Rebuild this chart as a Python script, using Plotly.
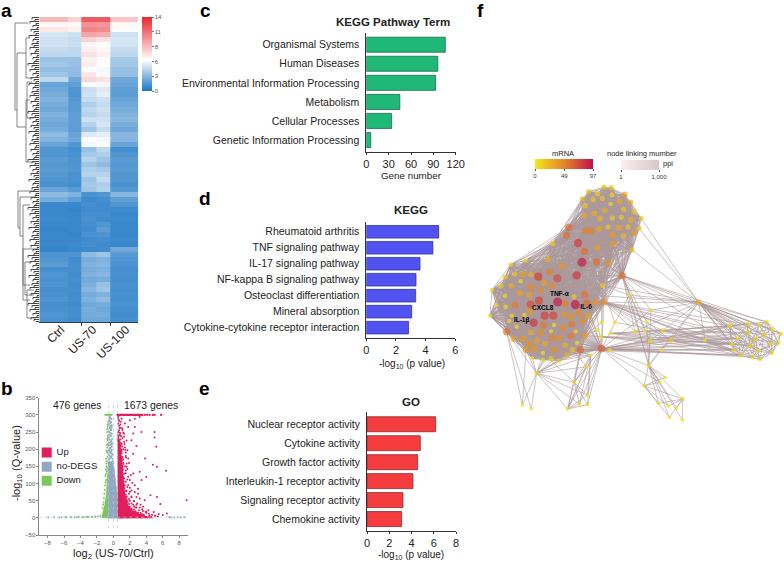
import plotly.graph_objects as go

W, H = 784, 562
FONT = "Liberation Sans"
INK = "#222222"

# ---------------- a: heatmap rows, top to bottom ----------------
ctrl_left = [8.5, 6.2, 6.8, 4.8, 4.6, 4.7, 4.4, 4.2, 3.3, 3.5, 3.1, 3.4, 4.2, 2.0, 2.2, 2.4, 2.6, 2.4, 2.2, 2.6,
             2.4, 2.2, 2.4, 3.0, 2.7, 2.0, 1.4, 1.4, 1.6, 1.5, 1.6, 1.5, 1.3, 1.2, 2.0, 3.0, 2.4, 0.8, 0.8, 0.8,
             0.9, 0.8, 0.7, 0.8, 0.8, 0.8, 0.7, 1.3, 1.4, 1.6, 1.1, 1.3, 1.2, 1.3, 1.1, 1.2, 1.3, 1.1, 1.2, 1.3, 1.2]
ctrl_right = [7.5, 6.2, 6.4, 4.6, 4.4, 4.5, 4.2, 4.2, 3.3, 3.2, 3.1, 3.0, 2.2, 1.8, 1.4, 1.3, 1.5, 1.6, 1.6, 1.8,
              1.8, 1.8, 1.7, 2.0, 2.2, 1.4, 1.1, 1.2, 1.3, 1.3, 1.4, 1.2, 1.2, 1.1, 1.6, 2.6, 1.8, 0.8, 0.7, 0.8,
              0.8, 0.8, 0.8, 0.7, 0.8, 0.9, 0.8, 1.3, 1.0, 1.1, 1.1, 1.0, 1.1, 1.0, 1.1, 1.0, 1.1, 1.0, 1.1, 1.1, 1.0]
us70_left = [12, 10, 10.5, 9.3, 7.5, 6.2, 6.5, 7, 6.4, 6.6, 6, 6.8, 7.4, 5.8, 4.5, 4.6, 4.4, 3.8, 4.2, 4.0,
             4.6, 4.0, 3.4, 5.0, 5.8, 5.6, 3.2, 3.6, 4.0, 3.4, 3.8, 4.0, 3.4, 3.6, 3.4, 1.2, 0.9, 1.1, 1.0, 1.1,
             1.2, 1.1, 1.0, 1.2, 1.0, 1.1, 0.9, 3.0, 2.4, 2.6, 2.4, 2.6, 2.3, 2.5, 2.8, 2.4, 2.6, 2.2, 2.4, 2.3, 2.2]
us70_right = [12, 9.8, 10.2, 9, 7, 6, 6.2, 6.5, 5.8, 6, 5.6, 5.8, 7, 5.6, 5, 5.2, 4.6, 4.4, 4.6, 4.4,
              4.6, 4.8, 4.4, 5.2, 5.6, 5.8, 4.2, 3.8, 3.4, 3.0, 3.6, 4.0, 4.4, 3.8, 3.9, 1.4, 1.1, 1.0, 1.0, 1.1,
              1.0, 1.4, 1.7, 1.3, 1.1, 1.0, 1.0, 3.4, 2.6, 2.8, 2.6, 2.8, 2.4, 3.2, 3.4, 2.6, 3.0, 2.4, 2.2, 2.4, 2.2]
us100 = [8, 6.2, 6, 4.6, 4.8, 4.7, 4.4, 4.2, 3.6, 3.5, 3.2, 3.2, 2.2, 2.0, 1.8, 1.7, 2.0, 2.2, 2.4, 2.6,
         2.8, 2.4, 2.2, 2.8, 2.8, 2.0, 1.1, 1.4, 1.6, 1.5, 1.6, 1.4, 1.4, 1.2, 1.5, 2.8, 1.8, 1.4, 0.9, 0.8,
         0.9, 0.8, 0.8, 0.8, 0.9, 0.8, 2.2, 1.6, 1.4, 1.2, 1.1, 1.2, 1.1, 1.2, 1.1, 1.2, 1.1, 1.2, 1.1, 1.0, 1.1]
heat_labels = ["Ctrl", "US-70", "US-100"]
heat_ticks = [0, 2.8, 5.6, 8.4, 11.2, 14]
heat_tick_text = ["0", "3", "6", "8", "11", "14"]
leaf_depth = [7, 4, 9, 3, 6, 2, 8, 5, 3, 10, 4, 6, 2, 7, 5, 9, 3, 4, 8, 2, 6, 3, 5, 11]

# dendrogram brackets above the leaves: stem x, first y, second y, child x for each
bracket_x = [15, 17, 26, 27, 26, 18, 20, 23, 23, 25, 27]
bracket_y1 = [23, 53, 38, 82, 100, 191, 197, 205, 249, 262, 290]
bracket_y2 = [110, 127, 78, 118, 162, 228, 236, 285, 300, 295, 318]
bracket_c1 = [28, 26, 30, 32, 30, 36, 34, 30, 36, 32, 34]
bracket_c2 = [17, 26, 33, 34, 36, 20, 23, 30, 30, 34, 36]

# ---------------- b: volcano ----------------
up_area_x = [0.5, 5.0, 4.0, 3.2, 2.4, 1.8, 1.4, 1.2, 1.0, 0.8, 0.5]
up_area_y = [-2, -1, 5, 12, 22, 36, 75, 135, 185, 225, 250]
none_area_x = [-0.65, 0.5, 0.5, 0.3, 0.1, -0.2, -0.65]
none_area_y = [-2, -2, 60, 110, 150, 165, 165]
down_area_x = [-0.65, -1.45, -1.3, -1.1, -0.9, -0.75, -0.6]
down_area_y = [-2, 0, 17, 36, 66, 135, 185]

up_x = [8.9, 6.4, 5.2, 5.0, 5.0, 3.85, 4.8, 5.3, 3.4, 2.6, 3.2, 2.6, 1.8, 2.4, 2.2, 2.8, 1.7, 2.4, 1.4, 1.0,
        2.0, 1.3, 3.2, 4.0, 3.4, 3.0, 4.5, 5.3, 5.7, 3.8, 2.8, 3.2, 2.2, 2.0, 2.4, 1.6, 1.8, 2.6, 3.6, 4.25,
        4.9, 6.0, 6.5, 5.5, 1.1, 1.3, 0.8, 0.9, 1.5, 1.2, 0.7, 1.0, 1.6, 1.4, 1.9, 1.7, 2.1, 0.9, 1.1, 1.4,
        1.8, 2.3, 2.6, 2.0, 1.5, 1.7, 2.9, 3.3, 2.5, 2.2, 1.9, 1.5, 1.3, 1.2, 1.6, 2.0, 2.7, 3.1, 3.5, 3.0,
        4.0, 3.6, 2.4, 2.8, 0.8, 0.7, 0.9, 1.1, 1.0, 0.6, 0.7, 0.8, 1.0, 1.2, 1.3, 1.5, 0.6, 0.65, 0.55, 0.75,
        0.85, 0.95, 1.05, 0.6, 0.7, 1.9, 2.2, 2.5, 1.4, 1.6, 4.4, 4.7, 5.1, 3.9, 3.3]
up_y = [51, 137, 207, 250, 234, 173, 155, 149, 250, 265, 294, 289, 265, 246, 226, 209, 197, 187, 275, 289,
        284, 236, 134, 119, 110, 85, 66, 61, 40, 51, 61, 56, 80, 110, 129, 149, 173, 95, 32, 22,
        17, 8, 13, 11, 260, 222, 245, 210, 190, 170, 268, 195, 225, 205, 160, 142, 125, 280, 255, 150,
        120, 102, 75, 88, 105, 90, 42, 38, 48, 60, 70, 130, 115, 160, 62, 50, 30, 22, 25, 70,
        14, 10, 38, 30, 240, 255, 175, 145, 120, 225, 205, 195, 215, 200, 245, 180, 275, 240, 290, 215,
        190, 165, 178, 250, 150, 55, 42, 33, 95, 78, 7, 9, 6, 18, 15]
up_edge_x = [4.3, 4.6, 3.7, 3.4, 3.0, 2.7, 2.5, 2.2, 2.0, 1.9, 1.75, 1.65, 1.6, 1.5, 1.45, 1.35, 1.3, 1.25, 1.2, 1.3,
             1.15, 1.1, 1.2, 1.05, 1.1, 1.0, 0.95, 1.05, 0.9, 0.85, 0.95, 0.8, 0.75, 0.85, 0.7, 0.6, 0.65, 0.9, 1.2, 1.1,
             1.35, 1.45, 1.55, 1.6, 1.5, 1.7, 1.8, 2.0, 2.2, 2.5, 2.8, 3.2, 3.6, 4.0, 4.3, 5.0, 5.4]
up_edge_y = [4, 3, 8, 11, 15, 19, 24, 27, 33, 40, 46, 52, 60, 68, 78, 86, 95, 105, 118, 128,
             140, 150, 157, 168, 175, 188, 198, 208, 218, 228, 238, 248, 262, 272, 282, 295, 285, 262, 248, 232,
             215, 198, 176, 158, 138, 112, 96, 76, 62, 50, 38, 30, 20, 18, 12, 6, 4]
up_top_x = [0.5, 0.6, 0.7, 0.8, 0.9, 1.0, 1.1, 1.2, 1.3, 1.4, 1.5, 1.6, 1.7, 1.8, 1.9, 2.0, 2.1, 2.2, 2.3, 2.4,
            2.5, 2.6, 2.7, 2.8, 2.9, 3.0, 3.1, 3.2, 3.3, 3.4, 3.5, 3.8, 4.1, 4.4, 4.8, 5.0, 5.8]
none_x = [-0.5, -0.3, -0.1, -0.6, -0.4, -0.2, 0.0, -0.5, -0.3, -0.1, -0.6, -0.4, -0.25, -0.55, -0.35, -0.15, -0.5, -0.3,
          -0.45, -0.2, -0.6, -0.4, -0.3, -0.5, -0.2, -0.35, -0.45, -0.3, -0.55, -0.25, -0.4, -0.35, -0.6, -0.2,
          -0.52, -0.38, -0.22, -0.12, -0.48, -0.28, -0.58, -0.42, -0.18, -0.33, -0.54, -0.24, -0.44, -0.62, -0.3, -0.16,
          -0.5, -0.36, -0.56, -0.26, -0.46, -0.2, -0.4, -0.6, -0.32, -0.5, -0.24, -0.44, 0.1, 0.2, 0.05, 0.15, -0.05, 0.3,
          7.4, 7.8, 8.2, 8.6, 6.8, 7.0, -7.9, -7.2, -6.6, -5.8, -5.2, -4.7, -4.2, -3.6, -3.1, -2.6, -2.2]
none_y = [170, 175, 165, 185, 190, 180, 160, 200, 205, 185, 215, 220, 225, 235, 240, 230, 250, 255,
          262, 245, 270, 275, 280, 285, 270, 290, 295, 265, 210, 215, 195, 155, 160, 198,
          172, 178, 193, 172, 182, 188, 196, 203, 208, 212, 218, 222, 228, 232, 238, 216,
          243, 248, 252, 258, 260, 264, 268, 272, 278, 282, 288, 292, 120, 100, 135, 112, 150, 88,
          1, 2, 1, 2, 2, 1, 1, 2, 1, 3, 2, 2, 3, 2, 3, 3, 4]
down_x = [-0.7, -0.75, -0.8, -0.65, -0.7, -0.85, -0.75, -0.7, -0.65, -0.8, -0.7, -0.75, -1.0, -1.1, -0.9, -1.2, -1.3, -1.6, -1.9,
          -2.2, -2.6, -3.0, -3.3, -3.8, -4.4, -5.1, -5.7, -6.3,
          -0.72, -0.82, -0.78, -0.68, -0.88, -0.74, -0.66, -0.84, -0.92, -0.96, -1.04, -0.98, -1.15, -1.25, -0.76, -0.7, -0.8, -0.9]
down_y = [190, 205, 165, 215, 235, 150, 250, 265, 280, 135, 120, 145, 95, 70, 110, 45, 28, 5, 4,
          3, 3, 2, 3, 2, 2, 2, 1, 2,
          178, 192, 212, 225, 172, 228, 240, 158, 128, 104, 82, 122, 58, 38, 258, 272, 196, 140]
down_top_x = [-0.8, -0.7, -0.6, -0.5, -0.4, -0.3, -0.2, -1.0, -0.9]
legend_labels = ["Up", "no-DEGS", "Down"]
legend_x = [-8.1, -8.1, -8.1]
legend_y = [190, 149, 108]
cut_x = [-0.6, 0, 0.5]

# ---------------- c, d, e: bars ----------------
kegg_terms = ["Organismal Systems", "Human Diseases", "Environmental Information Processing",
              "Metabolism", "Cellular Processes", "Genetic Information Processing"]
kegg_counts = [106, 96, 93, 45, 34, 6]
path_terms = ["Rheumatoid arthritis", "TNF signaling pathway", "IL-17 signaling pathway",
              "NF-kappa B signaling pathway", "Osteoclast differentiation", "Mineral absorption",
              "Cytokine-cytokine receptor interaction"]
path_values = [4.88, 4.49, 3.62, 3.35, 3.33, 3.06, 2.85]
go_terms = ["Nuclear receptor activity", "Cytokine activity", "Growth factor activity",
            "Interleukin-1 receptor activity", "Signaling receptor activity", "Chemokine activity"]
go_values = [6.17, 4.79, 4.55, 4.13, 3.23, 3.11]

main_x = [427, 365, 372, 456, 483, 477, 314, 372, 394, 326, 353, 396, 434, 307, 339, 367, 419, 451, 392, 316,
          431, 374, 462, 343, 314, 397, 424, 360, 453, 384, 416, 444, 266, 318, 334, 358, 259, 397, 430, 462,
          218, 294, 399, 352, 313, 204, 137, 92, 306, 350, 385, 247, 209, 290, 175, 232, 128, 153, 104, 76,
          122, 367, 193, 215, 152, 94, 63, 36, 120, 147, 181, 75, 282, 177, 152, 233, 286, 256, 345, 320,
          105, 49, 77, 150, 194, 220, 298, 325, 253, 274, 95, 133, 30, 88, 161, 190, 222, 275, 308, 248,
          110, 152, 181, 213, 287, 80, 101, 129, 170, 217, 238, 273, 314, 148, 195, 255, 291, 224, 138, 163,
          189, 277, 301, 261, 213, 236, 189, 157]
main_y = [437, 656, 517, 360, 265, 295, 494, 171, 173, 185, 191, 195, 194, 206, 209, 205, 214, 217, 222, 227,
          238, 241, 245, 250, 257, 264, 262, 266, 270, 291, 293, 291, 292, 303, 303, 297, 316, 315, 318, 310,
          341, 339, 341, 353, 364, 388, 392, 404, 397, 396, 400, 408, 426, 436, 440, 445, 433, 433, 432, 441,
          454, 466, 459, 468, 471, 467, 468, 480, 489, 495, 480, 497, 500, 512, 523, 516, 524, 521, 517, 519,
          526, 525, 531, 545, 557, 557, 548, 557, 553, 560, 557, 555, 557, 573, 578, 585, 585, 583, 573, 594,
          590, 607, 608, 604, 605, 605, 626, 626, 632, 623, 624, 617, 617, 642, 641, 645, 638, 659, 660, 657,
          669, 659, 660, 675, 686, 692, 690, 685]
main_v = [58, 64, 42, 18, 14, 16, 55, 16, 16, 18, 14, 10, 34, 18, 16, 16, 30, 30, 8, 16,
          18, 28, 16, 28, 32, 14, 14, 24, 28, 16, 32, 18, 58, 50, 50, 32, 56, 38, 20, 38,
          16, 78, 38, 36, 58, 26, 10, 10, 92, 58, 42, 40, 50, 80, 76, 72, 36, 26, 16, 14,
          8, 16, 34, 46, 44, 28, 14, 8, 34, 34, 44, 8, 14, 74, 70, 92, 94, 50, 42, 58,
          52, 8, 10, 40, 76, 74, 46, 34, 40, 42, 6, 8, 6, 6, 80, 54, 6, 52, 44, 46,
          6, 30, 44, 6, 6, 58, 36, 38, 36, 48, 44, 52, 38, 42, 30, 26, 8, 44, 40, 40,
          6, 18, 60, 26, 14, 10, 6, 4]
outer_x = [365, 352, 363, 392, 404, 390, 332, 320, 283, 322, 323, 298, 263, 170, 127, 154, 448, 513, 500, 465,
           495, 548, 573, 510, 543, 506, 492, 555, 540, 608, 535, 565, 590, 568, 607, 656, 675]
outer_y = [577, 600, 620, 610, 577, 660, 676, 710, 757, 795, 824, 822, 837, 730, 825, 836, 495, 540, 575, 604,
           603, 602, 631, 633, 660, 706, 767, 742, 757, 807, 820, 828, 834, 862, 870, 517, 631]
outer_v = [6, 8, 8, 6, 4, 4, 6, 4, 6, 4, 4, 4, 4, 10, 2, 2, 4, 2, 2, 6,
           4, 10, 14, 6, 2, 10, 4, 2, 2, 6, 4, 2, 2, 4, 2, 30, 4]
right_x = [749, 802, 838, 860, 876, 902, 803, 852, 773, 826, 755, 810, 873, 895, 762, 832, 876, 782, 817, 840]
right_y = [588, 582, 585, 576, 598, 611, 608, 615, 626, 628, 642, 647, 641, 639, 660, 663, 669, 676, 682, 689]
right_v = [10, 12, 6, 6, 8, 8, 10, 8, 6, 10, 6, 12, 6, 6, 6, 6, 6, 10, 8, 6]
gene_labels = ["TNF-α", "CXCL8", "IL-6", "IL-1β"]
gene_x = [238, 188, 318, 125]
gene_y = [493, 535, 531, 572]

# links that leave a cluster, as positions in the lists above
outer_hub_links = {
    13: [8, 12, 9, 14, 15, 6, 7, 11],
    25: [26, 27, 28, 29, 30, 31, 32, 33, 34, 17, 18, 23, 24, 16],
    35: [17, 21, 22, 36, 16, 19, 25],
    21: [19, 20, 23, 3, 4],
    22: [20, 5, 2, 24, 18],
    26: [30, 31, 33, 28, 27],
    29: [30, 31, 32, 33, 34, 26],
    8: [12, 9, 10, 11, 6, 7],
    12: [6, 7, 9, 11, 10],
    6: [9, 10, 11],
}
main_to_outer = {
    0: [16, 17, 18, 25, 35, 20, 23, 19],
    1: [5, 6, 7, 8, 9, 10, 11, 12, 25, 26, 16, 17, 23, 24, 28, 21, 22],
    2: [35, 21, 22, 36, 19, 20],
    3: [35],
    4: [35],
    5: [35],
    6: [13, 35],
    61: [35, 16, 0, 4],
    112: [13, 8, 0, 1, 2],
    120: [13, 8],
    122: [13, 6, 8, 12],
    118: [13, 14],
    105: [13, 14, 15],
    126: [13],
    127: [13],
    125: [13, 6],
    123: [13, 6],
    121: [6, 7, 5],
}
main_to_right = {0: [0, 1, 3, 10], 1: [0, 1, 2, 8, 10, 14, 17, 18], 2: [0, 1, 8, 9, 10, 14, 17], 122: [14, 17]}
outer_to_right = {
    35: list(range(20)),
    21: [0, 1, 6, 8, 10, 14],
    22: [0, 6, 8, 10, 11, 14, 17],
    36: [8, 10, 11, 14, 17],
    5: [10, 14, 17],
    3: [0, 6, 8, 10, 14],
    2: [8, 10, 14, 17],
}
NEAR_MAIN = 215
NEAR_RIGHT = 75


def px_x(left, right):
    return [left / W, right / W]


def px_y(top, bottom):
    return [1 - bottom / H, 1 - top / H]


def near_links(xs, ys, reach):
    segs_x, segs_y = [], []
    for i in range(len(xs)):
        for j in range(i + 1, len(xs)):
            if (xs[i] - xs[j]) ** 2 + (ys[i] - ys[j]) ** 2 < reach ** 2:
                segs_x += [xs[i], xs[j], None]
                segs_y += [ys[i], ys[j], None]
    return segs_x, segs_y


def join_links(links, xa, ya, xb, yb):
    segs_x, segs_y = [], []
    for a, targets in links.items():
        for b in targets:
            segs_x += [xa[a], xb[b], None]
            segs_y += [ya[a], yb[b], None]
    return segs_x, segs_y


fig = go.Figure()

# ---------------- a ----------------
heat_scale = [[0, "#1a75c3"], [0.42, "#ffffff"], [1, "#e8262c"]]
rows = list(zip(ctrl_left, ctrl_right, us70_left, us70_right, us100))
fig.add_trace(go.Heatmap(
    z=[list(r) for r in rows],
    x=[39.3, 68, 81.7, 96, 110, 138.3],
    zmin=0, zmax=14, colorscale=heat_scale, xaxis="x", yaxis="y", hoverinfo="skip",
    colorbar=dict(x=142 / W, xanchor="left", y=1 - 17 / H, yanchor="top", len=74, lenmode="pixels",
                  thickness=9.5, xpad=0, ypad=0, outlinewidth=0, ticks="outside", ticklen=2,
                  tickcolor="#777777", tickvals=heat_ticks, ticktext=heat_tick_text,
                  tickfont=dict(size=6, color="#555555", family=FONT)),
))

leaf_x, leaf_y = [], []
for k in range(153):
    y = 17.5 + k * 2
    d = 39 - leaf_depth[k % len(leaf_depth)]
    leaf_x += [39, d, d, None]
    leaf_y += [y, y, y + 2, None]
fig.add_trace(go.Scatter(x=leaf_x, y=leaf_y, mode="lines", line=dict(color="#333333", width=0.9),
                         xaxis="x2", yaxis="y2", hoverinfo="skip", showlegend=False))
tree_x, tree_y = [], []
for bx, y1, y2, c1, c2 in zip(bracket_x, bracket_y1, bracket_y2, bracket_c1, bracket_c2):
    tree_x += [c1, bx, bx, c2, None]
    tree_y += [y1, y1, y2, y2, None]
fig.add_trace(go.Scatter(x=tree_x, y=tree_y, mode="lines", line=dict(color="#666666", width=0.8),
                         xaxis="x2", yaxis="y2", hoverinfo="skip", showlegend=False))

# ---------------- b ----------------
for area_x, area_y, colour in [(down_area_x, down_area_y, "#7cc65f"),
                               (none_area_x, none_area_y, "#8fa9c4"),
                               (up_area_x, up_area_y, "#e21f5c")]:
    fig.add_trace(go.Scatter(x=area_x, y=area_y, mode="lines", fill="toself", fillcolor=colour,
                             line=dict(width=0, color=colour), xaxis="x3", yaxis="y3",
                             hoverinfo="skip", showlegend=False))
for dots_x, dots_y, colour, size in [(none_x, none_y, "#8fa9c4", 2),
                                     (down_x, down_y, "#7cc65f", 2),
                                     (down_top_x, [300] * len(down_top_x), "#7cc65f", 2),
                                     (up_x, up_y, "#d81f5e", 2),
                                     (up_edge_x, up_edge_y, "#e21f5c", 2),
                                     (up_top_x, [300] * len(up_top_x), "#e21f5c", 2.4)]:
    fig.add_trace(go.Scatter(x=dots_x, y=dots_y, mode="markers", marker=dict(color=colour, size=size, line_width=0),
                             xaxis="x3", yaxis="y3", hoverinfo="skip", showlegend=False))
for c in cut_x:
    fig.add_trace(go.Scatter(x=[c, c], y=[-30, 340], mode="lines", line=dict(color="#b9c6d3", width=0.7, dash="dot"),
                             xaxis="x3", yaxis="y3", hoverinfo="skip", showlegend=False))
fig.add_trace(go.Scatter(x=[-9, 9.1], y=[2, 2], mode="lines", line=dict(color="#b9c6d3", width=0.7, dash="dot"),
                         xaxis="x3", yaxis="y3", hoverinfo="skip", showlegend=False))
fig.add_trace(go.Scatter(x=legend_x, y=legend_y, mode="markers+text", text=[" " + t for t in legend_labels],
                         textposition="middle right", textfont=dict(size=9.5, color=INK, family=FONT),
                         marker=dict(symbol="square", size=10, color=["#e21f5c", "#8fa9c4", "#7cc65f"], line_width=0),
                         xaxis="x3", yaxis="y3", hoverinfo="skip", showlegend=False))

# ---------------- c, d, e ----------------
for terms, values, fill, edge, ax_x, ax_y in [
    (kegg_terms, kegg_counts, "#1fb877", "#1d6b4e", "x4", "y4"),
    (path_terms, path_values, "#5252f0", "#35358f", "x5", "y5"),
    (go_terms, go_values, "#f53c3e", "#8e2a30", "x6", "y6"),
]:
    fig.add_trace(go.Bar(x=values, y=terms, orientation="h", width=0.79,
                         marker=dict(color=fill, line=dict(color=edge, width=0.8)),
                         xaxis=ax_x, yaxis=ax_y, hoverinfo="skip", showlegend=False))

# ---------------- f ----------------
net_x = "x7"
net_y = "y7"
lx, ly = near_links(main_x, main_y, NEAR_MAIN)
for segs in [near_links(right_x, right_y, NEAR_RIGHT),
             join_links(outer_hub_links, outer_x, outer_y, outer_x, outer_y),
             join_links(main_to_outer, main_x, main_y, outer_x, outer_y),
             join_links(main_to_right, main_x, main_y, right_x, right_y),
             join_links(outer_to_right, outer_x, outer_y, right_x, right_y)]:
    lx += segs[0]
    ly += segs[1]
fig.add_trace(go.Scatter(x=lx, y=ly, mode="lines", line=dict(color="#ab989c", width=0.6),
                         xaxis=net_x, yaxis=net_y, hoverinfo="skip", showlegend=False))

mrna_scale = [[0, "#f2ea1e"], [0.25, "#eab421"], [0.5, "#e3862b"], [1, "#c3104e"]]
node_x = outer_x + right_x + main_x
node_y = outer_y + right_y + main_y
node_v = outer_v + right_v + main_v
fig.add_trace(go.Scatter(
    x=node_x, y=node_y, mode="markers",
    marker=dict(size=[4.4 + v * 0.05 if v > 12 else 3.6 + v * 0.12 for v in node_v], color=node_v,
                cmin=0, cmax=97, colorscale=mrna_scale, line_width=0,
                colorbar=dict(orientation="h", x=535 / W, xanchor="left", y=1 - 159 / H, yanchor="top",
                              len=57.5, lenmode="pixels", thickness=9.5, xpad=0, ypad=0, outlinewidth=0,
                              ticks="outside", ticklen=2, tickcolor="#555555", tickvals=[0, 49, 97],
                              tickfont=dict(size=6, color="#333333", family=FONT))),
    xaxis=net_x, yaxis=net_y, hoverinfo="skip", showlegend=False))
fig.add_trace(go.Scatter(
    x=[None], y=[None], mode="markers",
    marker=dict(color=[1], cmin=1, cmax=1000, colorscale=[[0, "#fbeeee"], [1, "#d5c8cc"]],
                colorbar=dict(orientation="h", x=621 / W, xanchor="left", y=1 - 160 / H, yanchor="top",
                              len=38, lenmode="pixels", thickness=9.5, xpad=0, ypad=0, outlinewidth=0,
                              ticks="outside", ticklen=2, tickcolor="#555555", tickvals=[1, 1000],
                              ticktext=["1", "1,000"], tickfont=dict(size=6, color="#333333", family=FONT))),
    xaxis=net_x, yaxis=net_y, hoverinfo="skip", showlegend=False))
fig.add_trace(go.Scatter(x=gene_x, y=gene_y, mode="text", text=gene_labels,
                         textfont=dict(size=6.5, color="#000000", family=FONT, weight="bold"),
                         xaxis=net_x, yaxis=net_y, hoverinfo="skip", showlegend=False))


def bar_axes(left, right, top, bottom, xmax, dtick, n):
    xa = dict(domain=px_x(left, right), range=[0, xmax], dtick=dtick, ticks="outside", ticklen=2,
              showline=True, linecolor="#333333", linewidth=0.8, tickcolor="#333333", tickwidth=0.8,
              showgrid=False, zeroline=False, tickfont=dict(size=11, color=INK, family=FONT))
    ya = dict(domain=px_y(top, bottom), range=[n - 0.37, -0.63], type="category", ticks="outside", ticklen=4,
              tickcolor="rgba(0,0,0,0)", showline=True, linecolor="#333333", linewidth=0.8, showgrid=False,
              tickfont=dict(size=10.5, color=INK, family=FONT))
    return xa, ya


def label(x, y, text, size, bold=False, color=INK, angle=0):
    return dict(x=x / W, y=1 - y / H, xref="paper", yref="paper", text=text, showarrow=False, textangle=angle,
                xanchor="center", yanchor="middle",
                font=dict(size=size, color=color, family=FONT, weight="bold" if bold else "normal"))


x4, y4 = bar_axes(366.3, 455.7, 32.7, 152, 120, 30, 6)
y4["anchor"] = "x4"
x4["anchor"] = "y4"
x5, y5 = bar_axes(366.3, 455.3, 221.7, 337.7, 6, 2, 7)
y5["anchor"] = "x5"
x5["anchor"] = "y5"
x6, y6 = bar_axes(367, 456, 412.3, 531, 8, 2, 6)
y6["anchor"] = "x6"
x6["anchor"] = "y6"

hidden = dict(visible=False, showgrid=False, zeroline=False)
fig.update_layout(
    width=W, height=H, margin=dict(l=0, r=0, t=0, b=0, autoexpand=False),
    paper_bgcolor="white", plot_bgcolor="rgba(0,0,0,0)", bargap=0.2,
    font=dict(family=FONT, color=INK),
    xaxis=dict(domain=px_x(39.3, 138.3), range=[39.3, 138.3], anchor="y", tickmode="array",
               tickvals=[61, 93, 126], ticktext=heat_labels, tickangle=-45, ticks="", showline=True,
               linecolor="#2b3f55", linewidth=1, showgrid=False, zeroline=False, ticklabelstandoff=-5,
               minor=dict(tickvals=[81.7, 110], ticks="outside", ticklen=3, tickcolor="#2b3f55"),
               tickfont=dict(size=12, color=INK, family=FONT)),
    yaxis=dict(domain=px_y(17, 322), range=[60.5, -0.5], anchor="x", **hidden),
    xaxis2=dict(domain=px_x(10, 39.3), range=[10, 39.3], anchor="y2", **hidden),
    yaxis2=dict(domain=px_y(17, 322), range=[322, 17], anchor="x2", **hidden),
    xaxis3=dict(domain=px_x(39.3, 188.3), range=[-9.0, 9.1], anchor="y3", tickvals=[-8, -6, -4, -2, 0, 2, 4, 6, 8],
                ticks="outside", ticklen=2, showline=True, linecolor="#888888", linewidth=0.7, tickcolor="#888888",
                showgrid=False, zeroline=False, tickfont=dict(size=6, color="#555555", family=FONT)),
    yaxis3=dict(domain=px_y(397.7, 535), range=[-50, 350], anchor="x3", dtick=50,
                ticks="outside", ticklen=2, showline=True, linecolor="#888888", linewidth=0.7, tickcolor="#888888",
                showgrid=False, zeroline=False, tickfont=dict(size=6, color="#555555", family=FONT)),
    xaxis4=x4, yaxis4=y4, xaxis5=x5, yaxis5=y5, xaxis6=x6, yaxis6=y6,
    xaxis7=dict(domain=px_x(480, 784), range=[0, 912], anchor="y7", **hidden),
    yaxis7=dict(domain=px_y(130, 562), range=[1296, 0], anchor="x7", **hidden),
    annotations=[
        label(6.5, 11, "a", 19, True, "#000000"), label(6.5, 388, "b", 19, True, "#000000"),
        label(205, 11, "c", 19, True, "#000000"), label(205, 198, "d", 19, True, "#000000"),
        label(204, 388, "e", 19, True, "#000000"), label(481, 11, "f", 19, True, "#000000"),
        label(77, 405, "476 genes", 10.4), label(151, 405, "1673 genes", 10.4),
        label(17, 463, "-log<sub>10</sub> (Q-value)", 11, angle=-90),
        label(113, 554, "log<sub>2</sub> (US-70/Ctrl)", 11),
        label(392.7, 22, "KEGG Pathway Term", 11.5, True),
        label(411, 175, "Gene number", 9.8),
        label(411, 210, "KEGG", 11.5, True),
        label(411.7, 364, "-log<sub>10</sub> (p value)", 10),
        label(411, 402, "GO", 11.5, True),
        label(411, 555, "-log<sub>10</sub> (p value)", 10),
        label(563, 153, "mRNA", 7.5), label(642, 153, "node linking mumber", 7.5),
        label(668, 164, "ppi", 7.5),
    ],
)

fig.write_html("out.html", config={"displayModeBar": False},
               post_script="document.body.style.margin = '0';")
